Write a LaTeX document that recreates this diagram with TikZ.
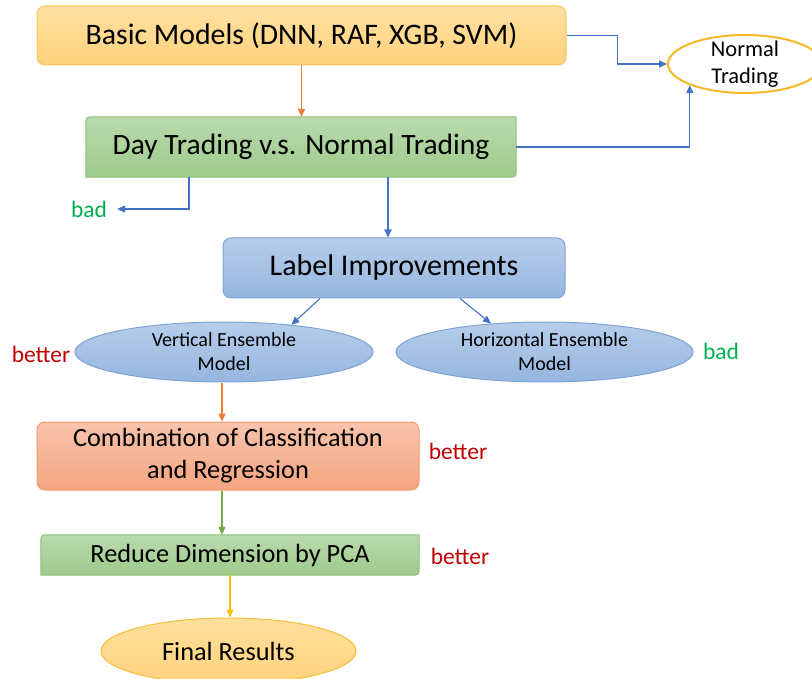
\documentclass[tikz,border=0pt]{standalone}
\usepackage{fontspec}
\setmainfont{Carlito}
\usetikzlibrary{arrows.meta,shapes.geometric,backgrounds,calc}
\definecolor{arrblue}{HTML}{4472C4}
\definecolor{arrorange}{HTML}{ED7D31}
\definecolor{arrgreen}{HTML}{70AD47}
\definecolor{arryellow}{HTML}{FFC000}
\definecolor{txtred}{HTML}{C00000}
\definecolor{txtgreen}{HTML}{00B050}
\definecolor{orT}{HTML}{FFE0A2}\definecolor{orB}{HTML}{FFD27C}\definecolor{orD}{HTML}{F7C35A}
\definecolor{grT}{HTML}{BADAAD}\definecolor{grB}{HTML}{9DCA8B}\definecolor{grD}{HTML}{8CBF78}
\definecolor{blT}{HTML}{B7CDEA}\definecolor{blB}{HTML}{95B6DF}\definecolor{blD}{HTML}{7DA3D6}
\definecolor{saT}{HTML}{F9C4AD}\definecolor{saB}{HTML}{F5A480}\definecolor{saD}{HTML}{F39A6A}
\definecolor{yeT}{HTML}{FFDF9C}\definecolor{yeB}{HTML}{FFD37E}\definecolor{yeD}{HTML}{F5BE3A}
\definecolor{ntD}{HTML}{F4B828}
\newcommand\diagshape[2]{%
  \path[#2] ([yshift=-9pt]#1.north west) .. controls (#1.north west) .. ([xshift=9pt]#1.north west)
    -- (#1.north east) -- ([yshift=9pt]#1.south east) .. controls (#1.south east) .. ([xshift=-9pt]#1.south east)
    -- (#1.south west) -- cycle;}
\tikzset{
  box/.style={rectangle, minimum width=#1, align=center, inner sep=0pt},
  rbox/.style={rectangle, rounded corners=8pt, line width=1pt, align=center, inner sep=0pt},
  ell/.style={ellipse, line width=1pt, align=center, inner xsep=0pt, inner ysep=-12pt},
  lab/.style={inner sep=0pt, font=\fontsize{23.5}{26}\selectfont},
  conn/.style={line width=1.1pt, -{Triangle[length=8pt,width=7pt]}},
}
\begin{document}
\begin{tikzpicture}[x=1pt,y=-1pt]
\useasboundingbox (0,0) rectangle (812,679);
% nodes
\node[rbox, minimum width=529pt, minimum height=59pt, top color=orT, bottom color=orB, draw=orD,
  font=\fontsize{29.8}{32}\selectfont] (bm) at (301.5,35.5) {Basic Models (DNN, RAF, XGB, SVM)};
\node[ell, minimum width=154pt, minimum height=58pt, fill=white, draw=ntD, line width=2pt,
  font=\fontsize{22.5}{27}\selectfont] (nt) at (745,64) {Normal\\Trading};
\node[box=430pt, minimum height=60pt, font=\fontsize{29.5}{32}\selectfont] (dt) at (301,147) {Day Trading v.s. Normal Trading};
\node[rbox, minimum width=342pt, minimum height=60pt, top color=blT, bottom color=blB, draw=blD,
  font=\fontsize{30}{32}\selectfont] (li) at (394,268) {Label Improvements};
\node[ell, minimum width=298pt, minimum height=60pt, top color=blT, bottom color=blB, draw=blD,
  font=\fontsize{20}{24}\selectfont] (ve) at (224,352) {Vertical Ensemble\\Model};
\node[ell, minimum width=297pt, minimum height=60pt, top color=blT, bottom color=blB, draw=blD,
  font=\fontsize{20}{24}\selectfont] (he) at (544.5,352) {Horizontal Ensemble\\Model};
\node[rbox, minimum width=382pt, minimum height=68pt, top color=saT, bottom color=saB, draw=saD,
  font=\fontsize{26.3}{32}\selectfont] (cb) at (228,456) {Combination of Classification\\and Regression};
\node[box=378pt, minimum height=40pt, font=\fontsize{26.3}{28}\selectfont] (rd) at (230,555) {Reduce Dimension by PCA};
\node[ell, minimum width=255pt, minimum height=66pt, top color=yeT, bottom color=yeB, draw=yeD,
  font=\fontsize{26.3}{28}\selectfont] (fr) at (228.5,651) {Final Results};
% custom shapes behind green boxes
\begin{scope}[on background layer]
\diagshape{dt}{top color=grT, bottom color=grB, draw=grD, line width=1pt}
\diagshape{rd}{top color=grT, bottom color=grB, draw=grD, line width=1pt}
\end{scope}
% labels
\node[lab, text=txtgreen] (bad1) at (89,209) {bad};
\node[lab, text=txtred] (bet1) at (41,354) {better};
\node[lab, text=txtgreen] (bad2) at (721,351) {bad};
\node[lab, text=txtred] (bet2) at (458,451) {better};
\node[lab, text=txtred] (bet3) at (460,556) {better};
% helper coordinates
\coordinate (bx) at (189,0);
\coordinate (lx) at (388,0);
\coordinate (vx) at (222,0);
\coordinate (l1) at (320,0);
\coordinate (l2) at (460,0);
% connectors
\draw[conn, arrorange] (bm.south) -- (bm.south |- dt.north);
\draw[conn, arrblue] (bm.east) -- ++(51,0) |- (nt.west);
\draw[conn, arrblue] (dt.east) -| (nt.201);
\draw[conn, arrblue] (dt.south -| bx) |- ([xshift=10pt]bad1.east);
\draw[conn, arrblue, line width=1.8pt] (dt.south -| lx) -- (li.north -| lx);
\draw[conn, arrblue] (li.south -| l1) -- (ve.22);
\draw[conn, arrblue] (li.south -| l2) -- (he.152);
\draw[conn, arrorange] (ve.south -| vx) -- (cb.north -| vx);
\draw[conn, arrgreen] (cb.south -| vx) -- (rd.north -| vx);
\draw[conn, arryellow] (rd.south) -- (rd.south |- fr.north);
\end{tikzpicture}
\end{document}
